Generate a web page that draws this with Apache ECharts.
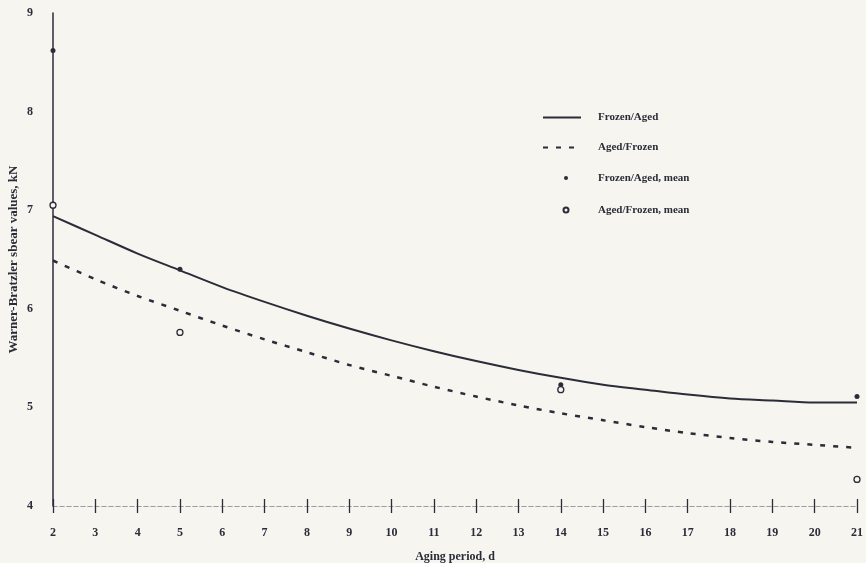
<!DOCTYPE html>
<html>
<head>
<meta charset="utf-8">
<script src="https://cdn.jsdelivr.net/npm/echarts@6/dist/echarts.min.js"></script>
<style>
  html, body { margin: 0; padding: 0; background: #f7f5ef; }
  #chart { width: 866px; height: 563px; }
</style>
</head>
<body>
<div id="chart"></div>
<script>
// aging period, days
const days = [2, 3, 4, 5, 6, 7, 8, 9, 10, 11, 12, 13, 14, 15, 16, 17, 18, 19, 20, 21]
// fitted curves, kN
const frozenAged = [6.94, 6.75, 6.56, 6.39, 6.22, 6.07, 5.93, 5.80, 5.68, 5.57, 5.47, 5.38, 5.30, 5.23, 5.18, 5.13, 5.09, 5.07, 5.05, 5.05]
const agedFrozen = [6.49, 6.30, 6.13, 5.98, 5.83, 5.69, 5.56, 5.43, 5.32, 5.21, 5.11, 5.02, 4.94, 4.87, 4.80, 4.74, 4.69, 4.65, 4.62, 4.59]
// measured means
const meanDays = [2, 5, 14, 21]
const frozenAgedMean = [8.62, 6.40, 5.23, 5.11]
const agedFrozenMean = [7.05, 5.76, 5.18, 4.27]

const ink = '#2a2c38'
const paper = '#f7f5ef'
const font = 'Liberation Serif'

const zip = (xs, ys) => xs.map((x, i) => [x, ys[i]])

// legend marks for the means: small circle right of centre in a 38x12 box
const dotIcon = 'path://M0,0M38,12M21,6a2,2 0 1,0 4,0a2,2 0 1,0 -4,0z'
const ringIcon = 'path://M0,0M38,12M20.5,6a2.5,2.5 0 1,0 5,0a2.5,2.5 0 1,0 -5,0z'

const chart = echarts.init(document.getElementById('chart'))

const xBase = {
  type: 'value',
  min: 2,
  max: 21,
  interval: 1,
  position: 'bottom',
  splitLine: { show: false },
  axisLine: { show: true, lineStyle: { color: '#9b9ca6', width: 1, type: [4, 3] } },
  axisTick: { show: true, inside: true, length: 7, lineStyle: { color: ink, width: 1.3 } },
  axisLabel: { show: false }
}

const option = {
  backgroundColor: paper,
  animation: false,
  grid: { left: 53, right: 9, top: 13, bottom: 57, outerBoundsMode: 'none', containLabel: false },
  legend: {
    orient: 'vertical',
    left: 537,
    top: 107,
    itemWidth: 38,
    itemHeight: 12,
    itemGap: 19,
    textStyle: { fontFamily: font, fontWeight: 'bold', fontSize: 11, color: ink, padding: [0, 0, 0, 12] },
    data: [
      { name: 'Frozen/Aged', itemStyle: { opacity: 0 } },
      { name: 'Aged/Frozen', itemStyle: { opacity: 0 } },
      { name: 'Frozen/Aged, mean', icon: dotIcon },
      { name: 'Aged/Frozen, mean', icon: ringIcon }
    ]
  },
  xAxis: [
    Object.assign({}, xBase, {
      name: 'Aging period, d',
      nameLocation: 'middle',
      nameGap: 45,
      nameMoveOverlap: false,
      nameTextStyle: { fontFamily: font, fontWeight: 'bold', fontSize: 12, color: ink },
      axisLabel: { show: true, margin: 21, fontFamily: font, fontWeight: 'bold', fontSize: 12, color: ink }
    }),
    Object.assign({}, xBase, {
      axisTick: { show: true, inside: false, length: 7, lineStyle: { color: ink, width: 1.3 } }
    })
  ],
  yAxis: {
    type: 'value',
    min: 4,
    max: 9,
    interval: 1,
    name: 'Warner-Bratzler sbear values, kN',
    nameLocation: 'middle',
    nameRotate: 90,
    nameGap: 33,
    nameMoveOverlap: false,
    nameTextStyle: { fontFamily: font, fontWeight: 'bold', fontSize: 13, color: ink },
    splitLine: { show: false },
    axisTick: { show: false },
    axisLine: { show: true, lineStyle: { color: ink, width: 1.5 } },
    axisLabel: { margin: 20, fontFamily: font, fontWeight: 'bold', fontSize: 12, color: ink }
  },
  series: [
    {
      name: 'Frozen/Aged',
      type: 'line',
      smooth: 0.3,
      symbol: 'none',
      lineStyle: { color: ink, width: 2 },
      itemStyle: { color: ink },
      data: zip(days, frozenAged)
    },
    {
      name: 'Aged/Frozen',
      type: 'line',
      smooth: 0.3,
      symbol: 'none',
      lineStyle: { color: ink, width: 2.5, type: [5, 8] },
      itemStyle: { color: ink },
      data: zip(days, agedFrozen)
    },
    {
      name: 'Frozen/Aged, mean',
      type: 'scatter',
      symbol: 'circle',
      symbolSize: 5,
      itemStyle: { color: ink, opacity: 1 },
      z: 4,
      data: zip(meanDays, frozenAgedMean)
    },
    {
      name: 'Aged/Frozen, mean',
      type: 'scatter',
      symbol: 'circle',
      symbolSize: 6,
      itemStyle: { color: paper, borderColor: ink, borderWidth: 1.3, opacity: 1 },
      z: 4,
      data: zip(meanDays, agedFrozenMean)
    }
  ]
}

chart.setOption(option)
</script>
</body>
</html>
